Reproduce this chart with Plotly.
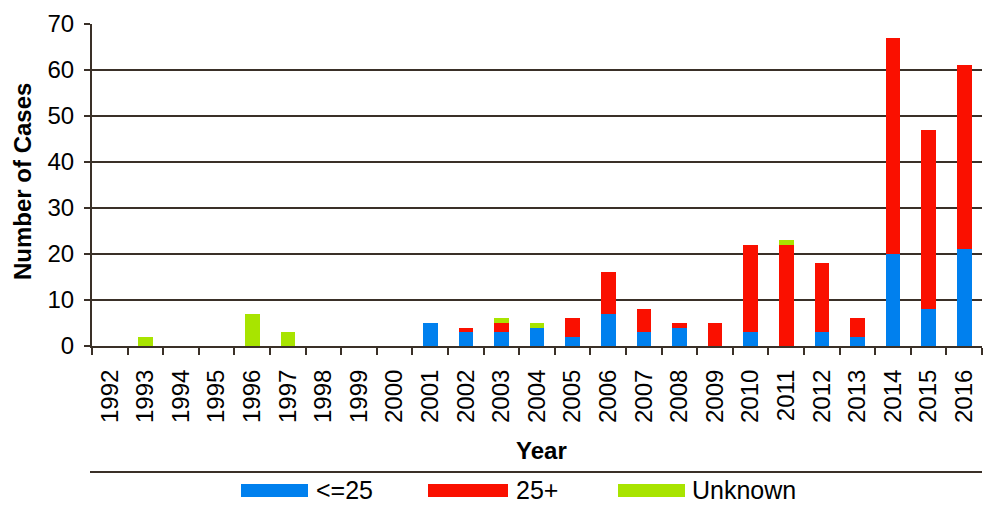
import plotly.graph_objects as go

years = [str(y) for y in range(1992, 2017)]
le25 = [0, 0, 0, 0, 0, 0, 0, 0, 0, 5, 3, 3, 4, 2, 7, 3, 4, 0, 3, 0, 3, 2, 20, 8, 21]
gt25 = [0, 0, 0, 0, 0, 0, 0, 0, 0, 0, 1, 2, 0, 4, 9, 5, 1, 5, 19, 22, 15, 4, 47, 39, 40]
unknown = [0, 2, 0, 0, 7, 3, 0, 0, 0, 0, 0, 1, 1, 0, 0, 0, 0, 0, 0, 1, 0, 0, 0, 0, 0]
series_names = ["<=25", "25+", "Unknown"]
colors = ["#0080EE", "#FA1000", "#A8E400"]
y_ticks = [0, 10, 20, 30, 40, 50, 60, 70]
x_title = "Year"
y_title = "Number of Cases"

W, H = 984, 506
L, R, T, B = 92, 2, 24, 160
FONT = "Liberation Sans, Arial, sans-serif"
AX = "#3A3028"

plot_w = W - L - R
plot_h = H - T - B
def px_x(x):
    return (x - L) / plot_w
def px_y(y):
    return (H - B - y) / plot_h

fig = go.Figure()
for name, vals, c in zip(series_names, [le25, gt25, unknown], colors):
    fig.add_trace(go.Bar(x=years, y=vals, name=name, marker=dict(color=c, line=dict(width=0)),
                         showlegend=False))

fig.update_layout(
    width=W, height=H, barmode="stack", bargap=0.59,
    margin=dict(l=L, r=R, t=T, b=B, autoexpand=False),
    paper_bgcolor="white", plot_bgcolor="white",
    font=dict(family=FONT, color="black"),
    xaxis=dict(type="category", tickangle=-90, tickfont=dict(size=24),
               showline=True, linecolor=AX, linewidth=2, automargin=False,
               ticks="outside", tickson="boundaries", ticklen=7, tickcolor=AX, tickwidth=2,
               ticklabelstandoff=12),
    yaxis=dict(range=[0, 70], tickvals=y_ticks, tickfont=dict(size=24), automargin=False,
               showline=True, linecolor=AX, linewidth=2,
               showgrid=True, gridcolor=AX, gridwidth=2, zeroline=False,
               ticks="outside", ticklen=6, tickcolor=AX, tickwidth=2,
               ticklabelstandoff=5),
)

# axis titles
fig.add_annotation(xref="paper", yref="paper", x=px_x(22), y=px_y(182),
                   text="<b>%s</b>" % y_title, textangle=-90, showarrow=False,
                   xanchor="center", yanchor="middle",
                   font=dict(size=24, family=FONT, color="black"))
fig.add_annotation(xref="paper", yref="paper", x=px_x(541), y=px_y(450),
                   text="<b>%s</b>" % x_title, showarrow=False,
                   xanchor="center", yanchor="middle",
                   font=dict(size=24, family=FONT, color="black"))

# separator line above legend
fig.add_shape(type="line", xref="paper", yref="paper",
              x0=px_x(90), x1=1.0, y0=px_y(472), y1=px_y(472),
              line=dict(color=AX, width=2))

# custom legend with long swatches
legend_items = [(241, 308, 314), (428, 508, 514), (618, 685, 690)]
for (x0, x1, tx), name, c in zip(legend_items, series_names, colors):
    fig.add_shape(type="rect", xref="paper", yref="paper",
                  x0=px_x(x0), x1=px_x(x1), y0=px_y(497), y1=px_y(484),
                  fillcolor=c, line=dict(width=0))
    fig.add_annotation(xref="paper", yref="paper", x=px_x(tx), y=px_y(490),
                       text=name, showarrow=False, xanchor="left", yanchor="middle",
                       font=dict(size=25, family=FONT, color="black"))

fig.write_html("out.html", config={"displayModeBar": False},
               post_script="document.body.style.margin='0';document.body.style.overflow='hidden';")
